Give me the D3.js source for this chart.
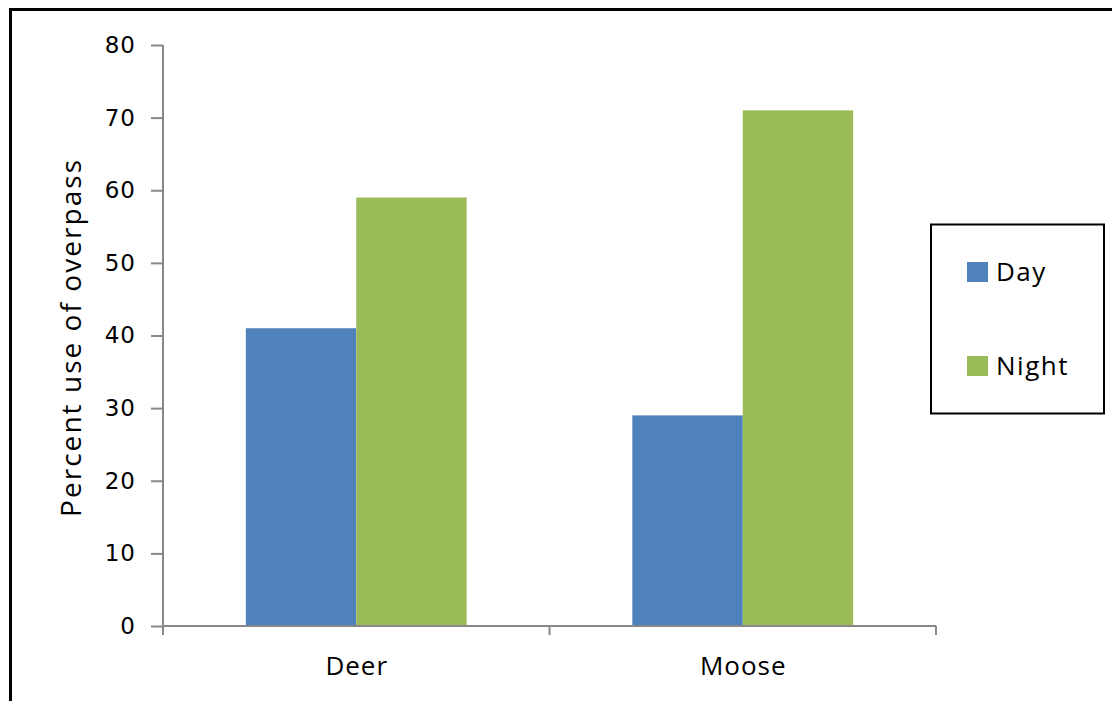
<!DOCTYPE html>
<html><head><meta charset="utf-8">
<script src="https://cdn.jsdelivr.net/npm/d3@7"></script>
<style>body{margin:0;background:#fff;}svg{display:block;}</style>
</head><body>
<svg id="c" width="1112" height="701"></svg>
<script>
const categories = ["Deer", "Moose"];
const seriesNames = ["Day", "Night"];
const dayValues = [41, 29];
const nightValues = [59, 71];
const yTicks = [0, 10, 20, 30, 40, 50, 60, 70, 80];
const colors = ["#4F81BD", "#9BBB59"];
const yLabel = "Percent use of overpass";

const svg = d3.select("#c");
svg.append("rect").attr("x", 0).attr("y", 0).attr("width", 1112).attr("height", 701).attr("fill", "#fff");
svg.append("rect").attr("x", 10.5).attr("y", 9.5).attr("width", 1130).attr("height", 720)
  .attr("fill", "none").attr("stroke", "#000").attr("stroke-width", 3);

const x0 = 163, x1 = 936, yTop = 45, yBot = 626;
const x = d3.scaleBand().domain(categories).range([x0, x1]).paddingInner(0).paddingOuter(0);
const y = d3.scaleLinear().domain([0, 80]).range([yBot, yTop]);
const inner = d3.scaleBand().domain(seriesNames).range([0, x.bandwidth()]).paddingInner(0).paddingOuter(0.75);

const series = [dayValues, nightValues];
seriesNames.forEach((s, si) => {
  svg.append("g").selectAll("rect").data(categories).join("rect")
    .attr("x", d => x(d) + inner(s))
    .attr("width", inner.bandwidth())
    .attr("y", (d, i) => y(series[si][i]))
    .attr("height", (d, i) => y(0) - y(series[si][i]))
    .attr("fill", colors[si]);
});

// y axis
const yAxis = svg.append("g").attr("transform", `translate(${x0},0)`)
  .call(d3.axisLeft(y).tickValues(yTicks).tickSize(12).tickPadding(15).tickFormat(d3.format("d")));
yAxis.select(".domain").attr("stroke", "#888").attr("stroke-width", 2).attr("d", `M0,${yTop}V${yBot}`);
yAxis.selectAll(".tick line").attr("stroke", "#888").attr("stroke-width", 2);
yAxis.selectAll(".tick text").attr("font-family", "DejaVu Sans, Verdana, sans-serif").attr("font-size", 23)
  .attr("letter-spacing", 1).attr("fill", "#000");

// x axis
const xAxisG = svg.append("g").attr("transform", `translate(0,${yBot})`);
xAxisG.append("path").attr("d", `M${x0},0H${x1}`).attr("stroke", "#888").attr("stroke-width", 2).attr("fill", "none");
const bounds = [x0, ...categories.map(c => x(c) + x.bandwidth())];
xAxisG.selectAll("line.t").data(bounds).join("line").attr("class", "t")
  .attr("x1", d => d).attr("x2", d => d).attr("y1", 0).attr("y2", 9)
  .attr("stroke", "#888").attr("stroke-width", 2);
xAxisG.selectAll("text").data(categories).join("text")
  .attr("x", d => x(d) + x.bandwidth() / 2 + 0.5).attr("y", 49)
  .attr("text-anchor", "middle").attr("font-family", "Open Sans, sans-serif").attr("font-size", 26)
  .attr("letter-spacing", 1).attr("fill", "#000")
  .text(d => d);

// y label
svg.append("text").attr("transform", `translate(81,${338.5}) rotate(-90)`)
  .attr("text-anchor", "middle").attr("font-family", "Open Sans, sans-serif").attr("font-size", 28).attr("fill", "#000")
  .attr("textLength", 357).attr("lengthAdjust", "spacing")
  .text(yLabel);

// legend
const lg = svg.append("g");
lg.append("rect").attr("x", 931).attr("y", 224.5).attr("width", 173).attr("height", 189)
  .attr("fill", "#fff").attr("stroke", "#000").attr("stroke-width", 2);
const ly = [272, 366];
seriesNames.forEach((s, i) => {
  lg.append("rect").attr("x", 967).attr("y", ly[i] - 10).attr("width", 21).attr("height", 20).attr("fill", colors[i]);
  lg.append("text").attr("x", 996).attr("y", ly[i] + 9).attr("font-family", "Open Sans, sans-serif")
    .attr("font-size", 26).attr("letter-spacing", 1.5).attr("fill", "#000").text(s);
});
</script>
</body></html>
